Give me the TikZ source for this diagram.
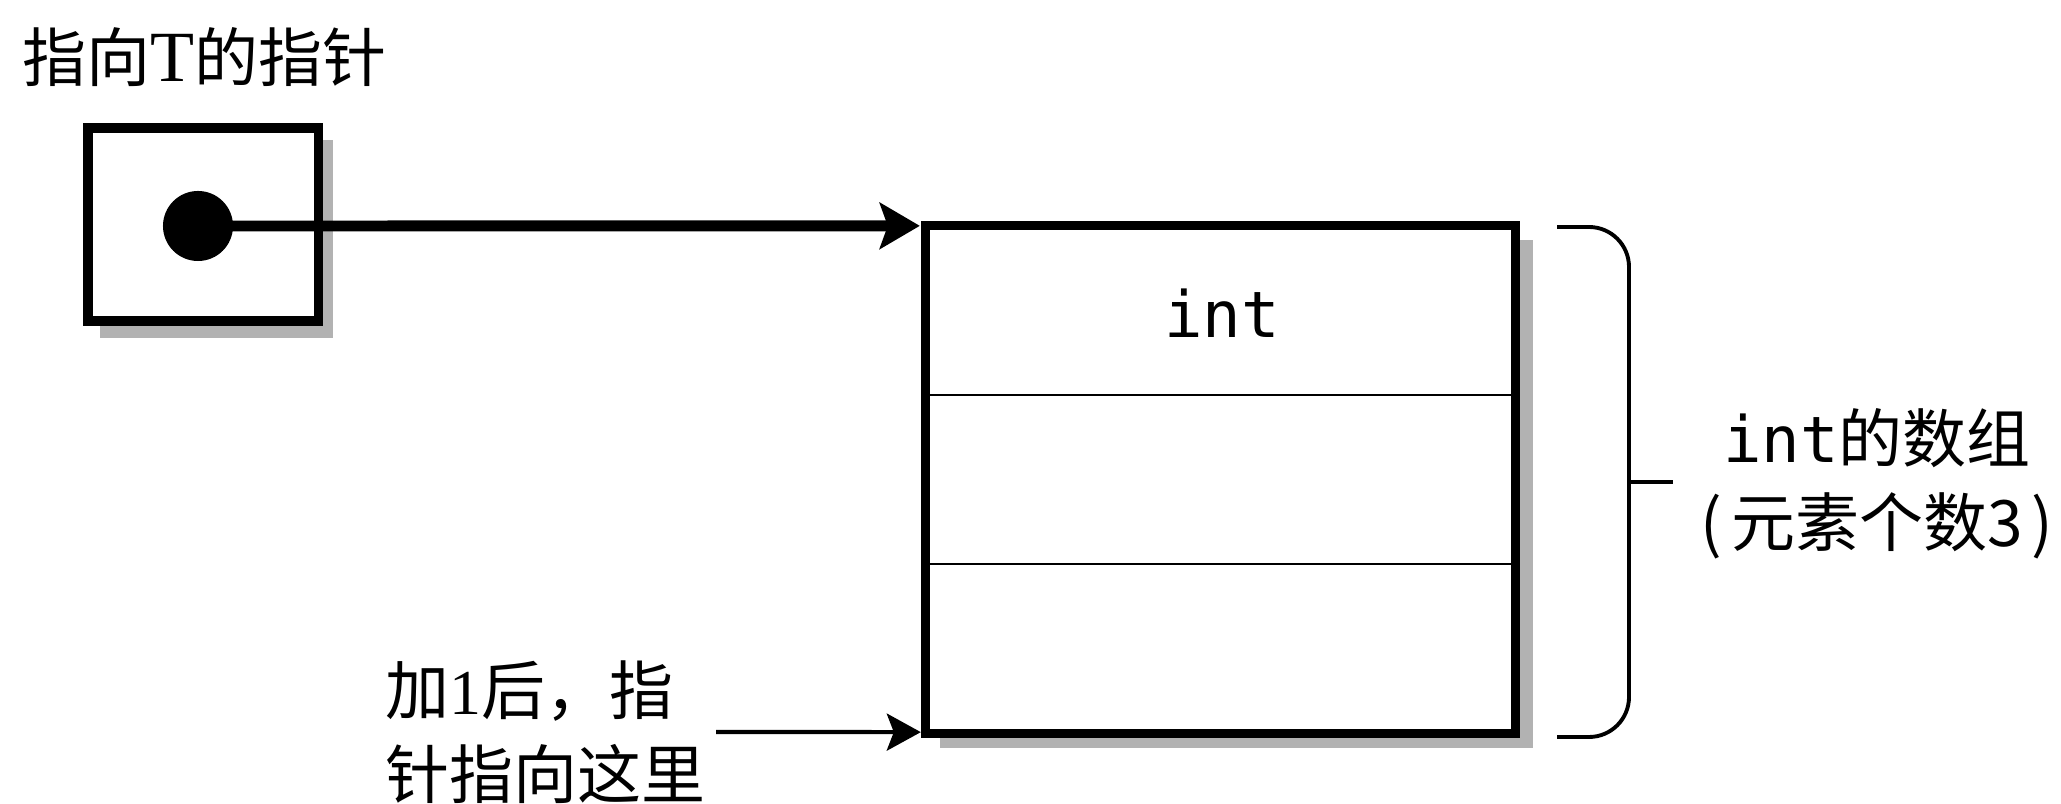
\documentclass[tikz,border=0pt]{standalone}
\usepackage{fontspec}
\setmainfont{Liberation Serif}
\newfontfamily\cjk{Noto Sans CJK SC}
\newfontfamily\monofnt{DejaVu Sans Mono}
\usetikzlibrary{arrows.meta,calc}
\begin{document}
\begin{tikzpicture}[x=0.01cm,y=-0.01cm,
  lbl/.style={inner sep=0pt, outer sep=0pt, font=\fontsize{18.2pt}{23.9pt}\selectfont},
  shadowfill/.style={fill=black!30, draw=none},
  thickbox/.style={draw=black, line width=2.6pt, fill=white, inner sep=0pt, outer sep=0pt},
  ptr/.style={line width=3.1pt, -{Stealth[length=0.40cm,width=0.46cm,inset=0.08cm]}},
  ptrthin/.style={line width=1.2pt, -{Stealth[length=0.34cm,width=0.37cm,inset=0.07cm]}},
  divider/.style={line width=0.6pt},
  brace/.style={line width=1.1pt, rounded corners=0.4cm}]
\useasboundingbox (0,0) rectangle (2061,804);

% title
\node[lbl, anchor=base west] (title) at (22,82) {{\cjk 指向}{\fontsize{20.5pt}{24pt}\selectfont T}{\cjk 的指针}};

% pointer box with shadow
\fill[shadowfill] (100,140) rectangle (333,338);
\node[thickbox, minimum width=2.30cm, minimum height=1.93cm] (ptrbox) at (203,224.5) {};
\node[circle, fill=black, inner sep=0pt, minimum size=0.70cm] (dot) at (198,226) {};

% array box with shadow
\fill[shadowfill] (940,240) rectangle (1533,748);
\node[thickbox, minimum width=5.89cm, minimum height=5.07cm] (arr) at (1220.5,479.5) {};
\draw[divider] ($(arr.north west)!1/3!(arr.south west)$) -- ($(arr.north east)!1/3!(arr.south east)$);
\draw[divider] ($(arr.north west)!2/3!(arr.south west)$) -- ($(arr.north east)!2/3!(arr.south east)$);
\draw[line width=2.6pt] (arr.north west) rectangle (arr.south east);
\node[lbl, anchor=base] (inttxt) at (1222,338) {\monofnt int};

% pointer arrow
\draw[ptr] (dot.center) -- ([xshift=-0.06cm]arr.north west);

% brace
\draw[brace] (1557,227) -- (1629,227) -- (1629,737) -- (1557,737);
\draw[line width=1.1pt] (1629,482) -- (1673,482);
\node[lbl, align=center, anchor=north] (desc) at (1877,408)
  {{\monofnt int}{\cjk 的数组}\\{\cjk (\hspace{0.14em}元素个数3\hspace{0.14em})}};

% note and arrow
\node[lbl, align=left, anchor=north west] (note) at (385,661)
  {{\cjk 加}1{\cjk 后，指}\\{\cjk 针指向这里}};
\coordinate (tail) at (716,732);
\draw[ptrthin] (tail) -- ([xshift=-0.05cm,yshift=0.01cm]arr.south west);
\end{tikzpicture}
\end{document}
